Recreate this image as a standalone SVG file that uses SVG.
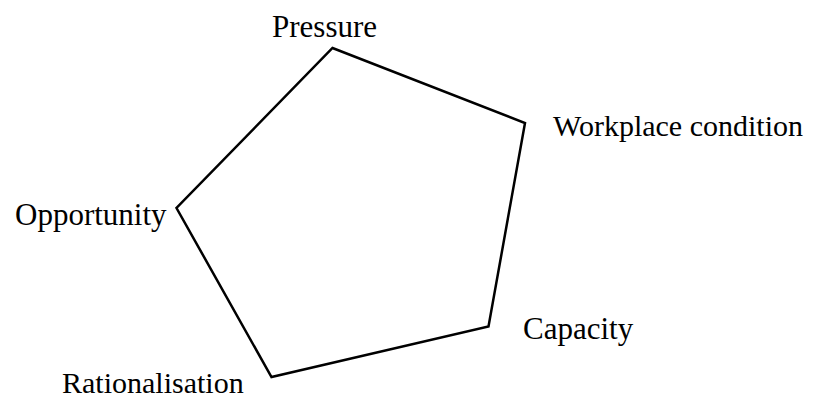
<svg xmlns="http://www.w3.org/2000/svg" width="827" height="401" viewBox="0 0 827 401">
<style>
.lbl{font-family:"Liberation Serif","Times New Roman",serif;font-size:30px;fill:#000}
.big{font-size:31px}
.edge{fill:none;stroke:#000;stroke-width:2.5;stroke-linejoin:miter}
</style>
<rect width="827" height="401" fill="#fff"/>
<g id="connectors">
<polygon class="edge" points="332.5,48 525,123 488.5,326.5 271.5,377 176.5,208"/>
</g>
<g id="pressure"><text class="lbl big" x="272" y="37">Pressure</text></g>
<g id="workplace"><text class="lbl" x="553" y="136">Workplace condition</text></g>
<g id="opportunity"><text class="lbl big" x="15" y="225">Opportunity</text></g>
<g id="capacity"><text class="lbl big" x="523" y="339">Capacity</text></g>
<g id="rationalisation"><text class="lbl" x="62" y="393">Rationalisation</text></g>
</svg>
